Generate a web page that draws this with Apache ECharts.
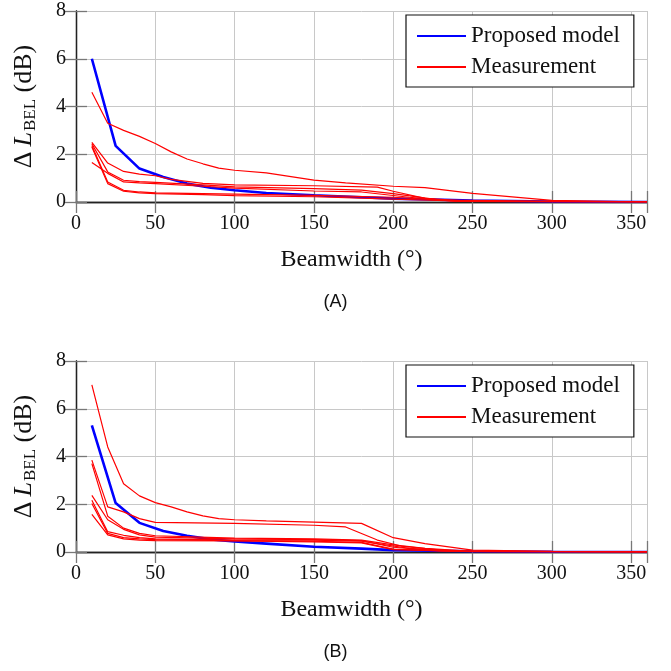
<!DOCTYPE html>
<html>
<head>
<meta charset="utf-8">
<script src="https://cdn.jsdelivr.net/npm/echarts@6/dist/echarts.min.js"></script>
<style>html,body{margin:0;padding:0;background:#fff;}#c{width:671px;height:671px;}</style>
</head>
<body>
<div id="c"></div>
<script>
// ---------- data ----------
const xTicks = [0, 50, 100, 150, 200, 250, 300, 350];
const yTicks = [0, 2, 4, 6, 8];
const panelLabels = ['(A)', '(B)'];
const legendNames = ['Proposed model', 'Measurement'];

// Panel A
const modelA = [[10,6.0],[25,2.35],[40,1.4],[55,1.05],[70,0.77],[85,0.6],[100,0.49],[120,0.38],[150,0.28],[180,0.2],[200,0.14],[250,0.06],[300,0.02],[360,0]];
const measA1 = [[10,4.6],[20,3.3],[30,3.0],[40,2.75],[50,2.45],[60,2.1],[70,1.8],[80,1.6],[90,1.42],[100,1.33],[120,1.22],[150,0.92],[170,0.8],[200,0.66],[220,0.6],[250,0.36],[300,0.07],[360,0]];
const measA2 = [[10,2.5],[20,1.63],[30,1.28],[40,1.17],[50,1.1],[60,0.95],[80,0.78],[100,0.72],[150,0.68],[190,0.62],[200,0.45],[220,0.15],[250,0.03],[360,0]];
const measA3 = [[10,2.44],[20,1.26],[30,0.91],[40,0.85],[50,0.82],[80,0.72],[100,0.63],[150,0.56],[180,0.5],[200,0.35],[230,0.08],[360,0]];
const measA4 = [[10,2.37],[20,0.84],[30,0.49],[40,0.42],[50,0.38],[80,0.35],[100,0.33],[150,0.28],[200,0.2],[240,0.04],[360,0]];
const measA5 = [[10,2.3],[20,0.77],[30,0.45],[40,0.38],[50,0.35],[80,0.31],[100,0.27],[150,0.22],[200,0.12],[250,0.02],[360,0]];
const measA6 = [[10,1.65],[20,1.2],[30,0.84],[40,0.8],[50,0.77],[80,0.66],[100,0.58],[150,0.46],[180,0.42],[210,0.2],[240,0.03],[360,0]];

// Panel B
const modelB = [[10,5.3],[25,2.05],[40,1.22],[55,0.88],[70,0.68],[85,0.53],[100,0.44],[120,0.35],[150,0.22],[180,0.14],[200,0.08],[250,0.03],[300,0.01],[360,0]];
const measB1 = [[10,7.0],[20,4.4],[30,2.86],[40,2.35],[50,2.07],[60,1.89],[70,1.68],[80,1.51],[90,1.4],[100,1.35],[120,1.3],[150,1.25],[180,1.2],[200,0.6],[220,0.35],[250,0.08],[300,0.03],[360,0]];
const measB2 = [[10,3.85],[20,1.89],[30,1.68],[40,1.4],[50,1.24],[100,1.2],[150,1.12],[170,1.05],[190,0.5],[205,0.25],[230,0.08],[250,0.02],[360,0]];
const measB3 = [[10,3.7],[20,1.5],[30,1.0],[40,0.78],[50,0.68],[100,0.58],[150,0.55],[180,0.5],[200,0.3],[220,0.15],[250,0.03],[360,0]];
const measB4 = [[10,2.37],[20,1.35],[30,0.95],[40,0.72],[50,0.62],[100,0.55],[150,0.52],[180,0.48],[200,0.2],[230,0.05],[360,0]];
const measB5 = [[10,2.17],[20,0.85],[30,0.7],[40,0.6],[50,0.55],[100,0.5],[150,0.5],[180,0.45],[210,0.15],[240,0.03],[360,0]];
const measB6 = [[10,2.03],[20,0.78],[30,0.6],[40,0.55],[50,0.52],[100,0.48],[150,0.45],[180,0.4],[200,0.12],[240,0.02],[360,0]];
const measB7 = [[10,1.58],[20,0.72],[30,0.55],[40,0.5],[50,0.48],[100,0.46],[150,0.42],[180,0.38],[200,0.1],[250,0.01],[360,0]];

const panels = [
  {model: modelA, meas: [measA1, measA2, measA3, measA4, measA5, measA6]},
  {model: modelB, meas: [measB1, measB2, measB3, measB4, measB5, measB6, measB7]}
];

// ---------- chart ----------
const SERIF = '"Liberation Serif", "DejaVu Serif", serif';
const gridTops = [11, 361];
const gridH = 191;

const grids = [], xAxes = [], yAxes = [], series = [], legends = [], graphics = [];

gridTops.forEach((top, p) => {
  grids.push({left: 76, right: 24, top: top, height: gridH, containLabel: false});
  const baseX = {
    type: 'value', min: 0, max: 360, interval: 50, gridIndex: p,
    axisLine: {show: true, lineStyle: {color: '#222', width: 1.3}},
    axisTick: {show: true, inside: true, length: 11, lineStyle: {color: '#777', width: 1.3}},
    splitLine: {show: false}
  };
  xAxes.push(Object.assign({}, baseX, {
    position: 'bottom',
    axisLabel: {show: true, color: '#111', fontFamily: SERIF, fontSize: 20, margin: 12,
      formatter: v => (xTicks.indexOf(v) >= 0 ? String(v) : '')},
    splitLine: {show: true, lineStyle: {color: '#c8c8c8', width: 1}},
    name: 'Beamwidth (°)', nameLocation: 'middle', nameGap: 46,
    nameTextStyle: {color: '#111', fontFamily: SERIF, fontSize: 24, padding: [0, 20, 0, 0]}
  }));
  xAxes.push(Object.assign({}, baseX, {position: 'top', axisLabel: {show: false}}));

  const baseY = {
    type: 'value', min: 0, max: 8, interval: 2, gridIndex: p,
    axisLine: {show: true, lineStyle: {color: '#222', width: 1.3}},
    axisTick: {show: true, inside: true, length: 11, lineStyle: {color: '#777', width: 1.3}},
    splitLine: {show: false}
  };
  yAxes.push(Object.assign({}, baseY, {
    position: 'left',
    axisLabel: {show: true, color: '#111', fontFamily: SERIF, fontSize: 20, margin: 10,
      formatter: v => (yTicks.indexOf(v) >= 0 ? String(v) : '')},
    splitLine: {show: true, lineStyle: {color: '#c8c8c8', width: 1}},
    name: '{d|Δ}{l|L}{s|BEL}{d| (dB)}', nameLocation: 'middle', nameGap: 37, nameRotate: 90,
    nameTextStyle: {
      color: '#111',
      rich: {
        d: {fontFamily: SERIF, fontSize: 26, lineHeight: 30, color: '#111', verticalAlign: 'middle'},
        l: {fontFamily: SERIF, fontSize: 26, fontStyle: 'italic', lineHeight: 30, color: '#111', padding: [0, 1, 0, 5], verticalAlign: 'middle'},
        s: {fontFamily: SERIF, fontSize: 17, lineHeight: 16, color: '#111', verticalAlign: 'bottom'}
      }
    }
  }));
  yAxes.push(Object.assign({}, baseY, {position: 'right', axisLabel: {show: false}}));

  const xi = p * 2, yi = p * 2;
  series.push({
    type: 'line', name: legendNames[0], xAxisIndex: xi, yAxisIndex: yi,
    data: panels[p].model, showSymbol: false, symbol: 'none', smooth: false,
    lineStyle: {color: '#0000ff', width: 2.6}, itemStyle: {color: '#0000ff'}, z: 3, animation: false
  });
  panels[p].meas.forEach(m => {
    series.push({
      type: 'line', name: legendNames[1], xAxisIndex: xi, yAxisIndex: yi,
      data: m, showSymbol: false, symbol: 'none', smooth: false,
      lineStyle: {color: '#ff0000', width: 1.2}, itemStyle: {color: '#ff0000'}, z: 4, animation: false
    });
  });

  legends.push({
    orient: 'vertical', left: 406, top: top + 4, data: legendNames,
    backgroundColor: '#fff', borderColor: '#111', borderWidth: 1.2, borderRadius: 0,
    padding: [9, 14, 8, 10], itemWidth: 49, itemHeight: 14, itemGap: 7,
    selectedMode: false,
    itemStyle: {opacity: 0},
    textStyle: {fontFamily: SERIF, fontSize: 23, color: '#111', lineHeight: 24}
  });

  graphics.push({
    type: 'text', left: 'center', top: top + 282,
    style: {text: panelLabels[p], font: '18px "Liberation Sans", Arial, sans-serif', fill: '#111'}
  });
});

const chart = echarts.init(document.getElementById('c'), null, {renderer: 'canvas'});
chart.setOption({
  animation: false,
  backgroundColor: '#fff',
  grid: grids, xAxis: xAxes, yAxis: yAxes, series: series, legend: legends,
  graphic: graphics
});
</script>
</body>
</html>
